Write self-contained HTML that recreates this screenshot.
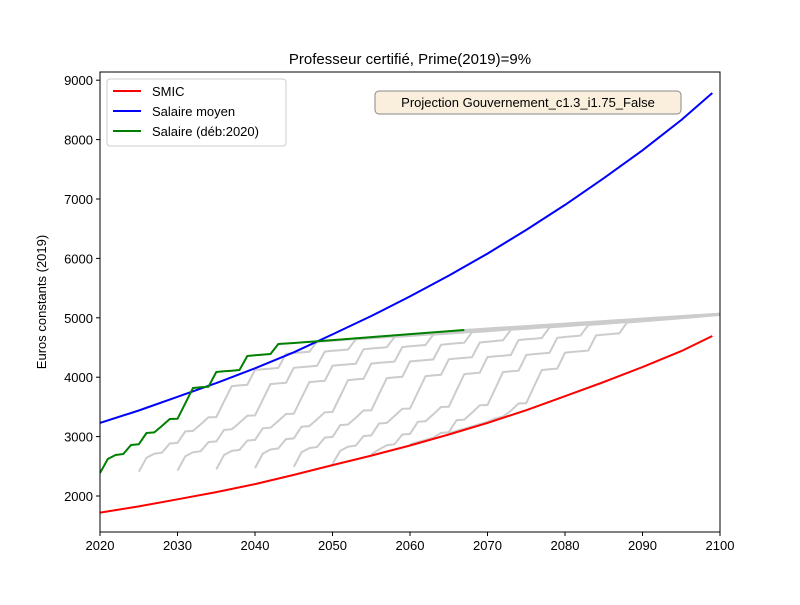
<!DOCTYPE html>
<html><head><meta charset="utf-8"><style>
body{margin:0;background:#fff;font-family:"Liberation Sans",sans-serif}
svg text{font-family:"Liberation Sans","DejaVu Sans",sans-serif}
</style></head><body>
<svg id="c" width="800" height="600" xmlns="http://www.w3.org/2000/svg"></svg>
<script>
const smicYears=[2020,2025,2030,2035,2040,2045,2050,2055,2060,2065,2070,2075,2080,2085,2090,2095,2099];
const smicVals=[1720,1825,1945,2065,2200,2355,2520,2680,2850,3035,3230,3445,3680,3920,4170,4440,4694];
const moyYears=[2020,2025,2030,2035,2040,2045,2050,2055,2060,2065,2070,2075,2080,2085,2090,2095,2099];
const moyVals=[3230,3440,3670,3900,4150,4420,4720,5030,5360,5710,6080,6480,6900,7350,7820,8330,8785];
const greenYears=[2020,2021,2022,2023,2024,2025,2026,2027,2028,2029,2030,2031,2032,2033,2034,2035,2036,2037,2038,2039,2040,2041,2042,2043,2045,2050,2055,2060,2067];
const greenVals=[2387,2623,2690,2707,2859,2870,3061,3070,3180,3296,3300,3560,3818,3830,3840,4088,4100,4110,4121,4357,4370,4380,4391,4559,4576,4625,4675,4725,4795];
const cohortStarts=[2025,2030,2035,2040,2045,2050,2055,2060,2065];
const cohortGrowth=1.0017;
const plateauYears=[2067,2100];
const plateauVals=[4795,5070];
const xTicks=[2020,2030,2040,2050,2060,2070,2080,2090,2100];
const yTicks=[2000,3000,4000,5000,6000,7000,8000,9000];

const svg=document.getElementById('c');const NS='http://www.w3.org/2000/svg';
const L=100,R=720,T=72,B=532;
const x=v=>L+(v-2020)/80*(R-L);
const y=v=>496-(v-2000)*0.0594;
function interp(xs,vs,a){if(a<=xs[0])return vs[0];for(let i=1;i<xs.length;i++){if(a<=xs[i]){const t=(a-xs[i-1])/(xs[i]-xs[i-1]);return vs[i-1]+t*(vs[i]-vs[i-1]);}}const n=xs.length;return vs[n-1]+(a-xs[n-1])*(vs[n-1]-vs[n-2])/(xs[n-1]-xs[n-2]);}
function mk(tag,attrs,parent){const e=document.createElementNS(NS,tag);for(const k in attrs)e.setAttribute(k,attrs[k]);(parent||svg).appendChild(e);return e;}
function line(xs,vs,col,name,w){const p=mk('polyline',{points:xs.map((a,i)=>x(a).toFixed(1)+','+y(vs[i]).toFixed(1)).join(' '),fill:'none',stroke:col,'stroke-width':w||2,'stroke-linejoin':'round'});

return p;}
const clip=mk('clipPath',{id:'cp'});mk('rect',{x:L,y:T,width:R-L,height:B-T},clip);
const g=mk('g',{'clip-path':'url(#cp)'});
cohortStarts.forEach((s,k)=>{const d=s-2020;const f=Math.pow(cohortGrowth,d);
const xs=greenYears.map(a=>a+d);
const vs=greenVals.map((v,i)=>Math.max(v*f,interp(smicYears,smicVals,xs[i])+20));
const p=mk('polyline',{points:xs.map((a,i)=>x(a).toFixed(1)+','+y(vs[i]).toFixed(1)).join(' '),fill:'none',stroke:'#cccccc','stroke-width':2},g);

});
g.appendChild(line(plateauYears,plateauVals,'#cccccc','gray-plateau'));
g.appendChild(line(smicYears,smicVals,'#ff0000','smic-line'));
g.appendChild(line(moyYears,moyVals,'#0000ff','salaire-moyen-line'));
g.appendChild(line(greenYears,greenVals,'#008000','salaire-line'));
mk('rect',{x:L,y:T,width:R-L,height:B-T,fill:'none',stroke:'#000','stroke-width':1});
xTicks.forEach(t=>{mk('line',{x1:x(t),x2:x(t),y1:B,y2:B+4,stroke:'#000'});const e=mk('text',{x:x(t),y:B+18,'text-anchor':'middle','font-size':13});e.textContent=t;

});
yTicks.forEach(t=>{mk('line',{x1:L-4,x2:L,y1:y(t),y2:y(t),stroke:'#000'});const e=mk('text',{x:L-7,y:y(t)+5,'text-anchor':'end','font-size':13});e.textContent=t;

});
</script>
<svg style="position:absolute;left:0;top:0" width="800" height="600">
<text x="410" y="64" text-anchor="middle" font-size="15">Professeur certifié, Prime(2019)=9%</text>
<text transform="translate(46,302) rotate(-90)" text-anchor="middle" font-size="13">Euros constants (2019)</text>
<g>
<rect x="107" y="79" width="179" height="67" rx="3" fill="#fff" fill-opacity="0.8" stroke="#ccc"/>
<line x1="113" y1="91" x2="141" y2="91" stroke="#ff0000" stroke-width="2"/><text x="152" y="96" font-size="13">SMIC</text>
<line x1="113" y1="111" x2="141" y2="111" stroke="#0000ff" stroke-width="2"/><text x="152" y="116" font-size="13">Salaire moyen</text>
<line x1="113" y1="131" x2="141" y2="131" stroke="#008000" stroke-width="2"/><text x="152" y="136" font-size="13">Salaire (déb:2020)</text>
</g>
<rect x="375" y="91" width="306" height="23" rx="4" fill="#faefdc" stroke="#888"/>
<text x="528" y="107" text-anchor="middle" font-size="13">Projection Gouvernement_c1.3_i1.75_False</text>
</svg>
</body></html>
